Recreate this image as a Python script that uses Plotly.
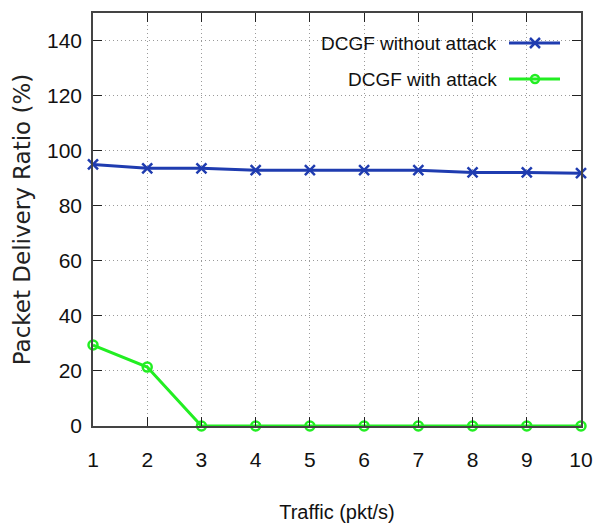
import plotly.graph_objects as go

traffic = [1, 2, 3, 4, 5, 6, 7, 8, 9, 10]
without_attack = [95.0, 93.6, 93.6, 92.9, 92.9, 92.9, 92.9, 92.1, 92.1, 91.8]
with_attack = [29.4, 21.4, 0, 0, 0, 0, 0, 0, 0, 0]
series_names = ["DCGF without attack", "DCGF with attack"]
y_ticks = [0, 20, 40, 60, 80, 100, 120, 140]

BLUE = "#1f3cb0"
GREEN = "#22ee22"
FONT = "Liberation Sans Narrow, Liberation Sans, sans-serif"

fig = go.Figure()
fig.add_trace(go.Scatter(x=traffic, y=without_attack, mode="lines+markers",
                         line=dict(color=BLUE, width=3),
                         marker=dict(symbol="x-thin", size=10, line=dict(color=BLUE, width=2.5)),
                         name=series_names[0], showlegend=False, cliponaxis=False))
fig.add_trace(go.Scatter(x=traffic, y=with_attack, mode="lines+markers",
                         line=dict(color=GREEN, width=3),
                         marker=dict(symbol="circle-open", size=9, color=GREEN, line=dict(color=GREEN, width=2.5)),
                         name=series_names[1], showlegend=False, cliponaxis=False))

# legend drawn in an overlay pixel-like axis (text left, sample right, like gnuplot)
leg_rows = [383, 347]
for name, color, sym, yy in [(series_names[0], BLUE, "x-thin", leg_rows[0]),
                             (series_names[1], GREEN, "circle-open", leg_rows[1])]:
    fig.add_trace(go.Scatter(x=[416, 467], y=[yy, yy], mode="lines", xaxis="x2", yaxis="y2",
                             line=dict(color=color, width=3), showlegend=False, hoverinfo="skip"))
    fig.add_trace(go.Scatter(x=[442], y=[yy], mode="markers", xaxis="x2", yaxis="y2",
                             marker=dict(symbol=sym, size=10 if sym == "x-thin" else 8, color=color,
                                         line=dict(color=color, width=2.5)),
                             showlegend=False, hoverinfo="skip"))
    fig.add_annotation(x=406, y=yy, xref="x2", yref="y2", text=name, showarrow=False,
                       xanchor="right", yanchor="middle",
                       font=dict(family=FONT, size=19, color="#111111"))

grid_dash = "1px,3px"
fig.update_layout(
    width=596, height=526,
    margin=dict(l=93, r=15, t=13, b=100),
    paper_bgcolor="white", plot_bgcolor="white",
    showlegend=False,
    xaxis=dict(range=[1, 10], tickvals=traffic, ticks="inside", ticklen=9, tickcolor="#222",
               showline=True, linecolor="#444", linewidth=1.5, mirror="ticks", automargin=False,
               showgrid=True, gridcolor="#9a9a9a", griddash=grid_dash, gridwidth=1,
               zeroline=False, tickfont=dict(family=FONT, size=21, color="#111"),
               ticklabelstandoff=14,
               title=dict(text="Traffic (pkt/s)", font=dict(family=FONT, size=20, color="#111"), standoff=35)),
    yaxis=dict(range=[0, 150], tickvals=y_ticks, ticks="inside", ticklen=9, tickcolor="#222",
               showline=True, linecolor="#444", linewidth=1.5, mirror="ticks", automargin=False,
               showgrid=True, gridcolor="#9a9a9a", griddash=grid_dash, gridwidth=1,
               zeroline=False, tickfont=dict(family=FONT, size=21, color="#111"),
               ticklabelstandoff=5,
               title=dict(text="Packet Delivery Ratio (%)", font=dict(family="DejaVu Sans", size=23, color="#222"), standoff=10)),
    xaxis2=dict(range=[0, 488], overlaying="x", visible=False, fixedrange=True),
    yaxis2=dict(range=[0, 413], overlaying="y", visible=False, fixedrange=True),
)

fig.write_html("out.html", config={"displayModeBar": False},
               post_script="document.body.style.margin='0';document.body.style.overflow='hidden';")
